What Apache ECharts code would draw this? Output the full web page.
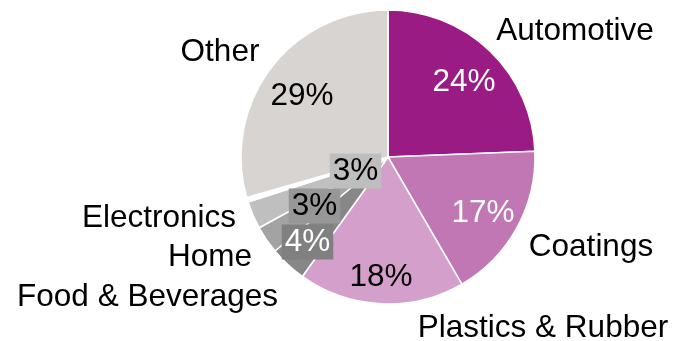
<!DOCTYPE html>
<html>
<head>
<meta charset="utf-8">
<script src="https://cdn.jsdelivr.net/npm/echarts@6/dist/echarts.min.js"></script>
<style>
html,body{margin:0;padding:0;background:#fff;}
#chart{width:673px;height:341px;}
</style>
</head>
<body>
<div id="chart"></div>
<script>
// Data (clockwise from 12 o'clock)
const categories = ['Automotive', 'Coatings', 'Plastics & Rubber', 'Food & Beverages', 'Home', 'Electronics', '', 'Other'];
const values = [24, 17, 18, 4, 3, 3, 0.5, 29];
const percentLabels = ['24%', '17%', '18%', '4%', '3%', '3%', '', '29%'];

// Styles
const sliceColors = ['#9B1B84', '#C077B3', '#D4A0CB', '#878787', '#A3A3A3', '#BFBFBF', '#FFFFFF', '#D7D4D1'];
const pctTextColors = ['#fff', '#fff', '#000', '#fff', '#000', '#000', '#000', '#000'];
const pctBoxColors = [null, null, null, '#808080', '#979797', '#BEBEBE', null, null];
// label placements [x, y, align]
const namePos = [[575, 31, 'center'], [591, 247, 'center'], [543, 328, 'center'], [278, 297, 'right'], [252, 257, 'right'], [236, 218, 'right'], [0, 0, 'center'], [220, 52, 'center']];
const pctPos = [[464, 82], [483, 213], [381, 277], [307.5, 242], [314.5, 206], [355.5, 171], [0, 0], [302, 96]];

const FONT = '"Liberation Sans", Arial, sans-serif';
const FS = 31.5;
const center = [388, 157];
const radius = 147;

const pctData = categories.map((c, i) => ({
  name: c,
  value: values[i],
  itemStyle: { color: sliceColors[i] },
  label: {
    show: percentLabels[i] !== '',
    color: pctTextColors[i],
    backgroundColor: pctBoxColors[i] || 'transparent',
    padding: pctBoxColors[i] ? [2, 3, 1, 3] : 0
  }
}));

const nameData = categories.map((c, i) => ({
  name: c,
  value: values[i],
  label: { show: c !== '' }
}));

const chart = echarts.init(document.getElementById('chart'), null, { renderer: 'canvas' });
chart.setOption({
  animation: false,
  backgroundColor: '#fff',
  series: [
    {
      type: 'pie',
      center: center,
      radius: [0, radius],
      startAngle: 90,
      clockwise: true,
      avoidLabelOverlap: false,
      silent: true,
      itemStyle: { borderColor: '#fff', borderWidth: 1.5 },
      label: {
        position: 'inside',
        fontFamily: FONT,
        fontSize: FS,
        formatter: p => percentLabels[p.dataIndex]
      },
      labelLine: { show: false },
      labelLayout: p => ({ x: pctPos[p.dataIndex][0], y: pctPos[p.dataIndex][1], align: 'center', verticalAlign: 'middle' }),
      data: pctData,
      z: 2
    },
    {
      type: 'pie',
      center: center,
      radius: [0, radius],
      startAngle: 90,
      clockwise: true,
      avoidLabelOverlap: false,
      silent: true,
      itemStyle: { color: 'rgba(0,0,0,0)', borderWidth: 0 },
      label: {
        position: 'outside',
        fontFamily: FONT,
        fontSize: FS,
        color: '#000',
        formatter: p => categories[p.dataIndex]
      },
      labelLine: { show: false },
      labelLayout: p => ({ x: namePos[p.dataIndex][0], y: namePos[p.dataIndex][1], align: namePos[p.dataIndex][2], verticalAlign: 'middle' }),
      data: nameData,
      z: 3
    }
  ]
});
</script>
</body>
</html>
